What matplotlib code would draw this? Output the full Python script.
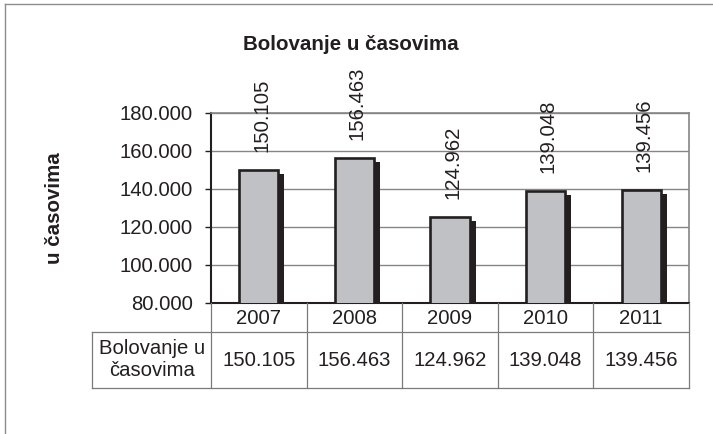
import matplotlib
matplotlib.use("Agg")
import matplotlib.pyplot as plt
from matplotlib.lines import Line2D
from matplotlib.transforms import offset_copy, blended_transform_factory
from matplotlib.ticker import FuncFormatter, MultipleLocator

plt.rcParams['font.family'] = ['Liberation Sans', 'DejaVu Sans']

# ---- data ----
years = ["2007", "2008", "2009", "2010", "2011"]
values = [150105, 156463, 124962, 139048, 139456]
series_name = "Bolovanje u\nčasovima"
title = "Bolovanje u časovima"
ylabel = "u časovima"
ymin, ymax, ystep = 80000, 180000, 20000

W, H = 713, 434
TXT = "#231f20"
GRID = "#858585"

def fmt(v):
    return f"{v:,.0f}".replace(",", ".")

fig = plt.figure(figsize=(W / 100, H / 100), dpi=100)
fig.patch.set_facecolor("white")

def fy(py):
    return 1 - py / H

def fx(px):
    return px / W

ax_l, ax_r, ax_t, ax_b = 211, 689, 113, 302.7
ax = fig.add_axes([fx(ax_l), fy(ax_b), (ax_r - ax_l) / W, (ax_b - ax_t) / H])

x = list(range(len(years)))
bw = 0.41

# shadow bars
shadow = ax.bar(x, values, width=bw, color=TXT, linewidth=0, zorder=2)
tr = offset_copy(ax.transData, fig=fig, x=6, y=-4, units='dots')
for p in shadow:
    p.set_transform(tr)

bars = ax.bar(x, values, width=bw, color="#c0c1c4", edgecolor=TXT,
              linewidth=1.9, zorder=3)

for xi, v in zip(x, values):
    ax.annotate(fmt(v), xy=(xi, v), xytext=(2, 13), textcoords='offset points',
                rotation=90, ha='center', va='bottom', fontsize=14.6, color=TXT)

ax.set_xlim(-0.5, len(years) - 0.5)
ax.set_ylim(ymin, ymax)
ax.yaxis.set_major_locator(MultipleLocator(ystep))
ax.yaxis.set_major_formatter(FuncFormatter(lambda v, p: fmt(v)))
ax.set_axisbelow(True)
ax.grid(axis='y', color=GRID, linewidth=1.0)
ax.set_xticks([])
ax.tick_params(axis='y', direction='out', length=4.3, width=1.0, color=TXT,
               pad=8.6, labelsize=14.6, labelcolor=TXT)

for s in ("left", "bottom"):
    ax.spines[s].set_color(TXT)
    ax.spines[s].set_linewidth(1.5)
for s in ("top", "right"):
    ax.spines[s].set_color(GRID)
    ax.spines[s].set_linewidth(1.2)

# title and y label
fig.text(fx(351), fy(44), title, ha='center', va='center', fontsize=14.8,
         fontweight='bold', color=TXT)
fig.text(fx(55), fy(208), ylabel, ha='center', va='center', rotation=90,
         fontsize=14.8, fontweight='bold', color=TXT)

# data table
bt = blended_transform_factory(ax.transData, fig.transFigure)
row1_top, row1_bot, row2_bot = ax_b, 332, 388
LC = "#7a7a7a"
for i in range(len(years) + 1):
    xb = i - 0.5
    fig.add_artist(Line2D([xb, xb], [fy(row1_top), fy(row2_bot)], transform=bt,
                          color=LC, linewidth=0.9))
for yy in (row1_bot, row2_bot):
    fig.add_artist(Line2D([fx(92), fx(ax_r)], [fy(yy), fy(yy)], transform=fig.transFigure,
                          color=LC, linewidth=0.9))
fig.add_artist(Line2D([fx(92), fx(92)], [fy(row1_bot), fy(row2_bot)],
                      transform=fig.transFigure, color=LC, linewidth=0.9))

for xi, yr, v in zip(x, years, values):
    fig.text(xi, fy((row1_top + row1_bot) / 2 + 1), yr, transform=bt, ha='center',
             va='center', fontsize=14.6, color=TXT)
    fig.text(xi, fy((row1_bot + row2_bot) / 2), fmt(v), transform=bt, ha='center',
             va='center', fontsize=14.6, color=TXT)
fig.text(fx(152), fy((row1_bot + row2_bot) / 2), series_name, ha='center', va='center',
         fontsize=14.6, color=TXT, linespacing=1.2)

# outer chart frame (cut off at right/bottom)
FC = "#8c8c8c"
fig.add_artist(Line2D([fx(4.5), fx(4.5)], [fy(3.5), 0], transform=fig.transFigure,
                      color=FC, linewidth=1.0))
fig.add_artist(Line2D([fx(4.5), 1], [fy(3.5), fy(3.5)], transform=fig.transFigure,
                      color=FC, linewidth=1.0))

fig.savefig("out.png", dpi=100, facecolor="white")
